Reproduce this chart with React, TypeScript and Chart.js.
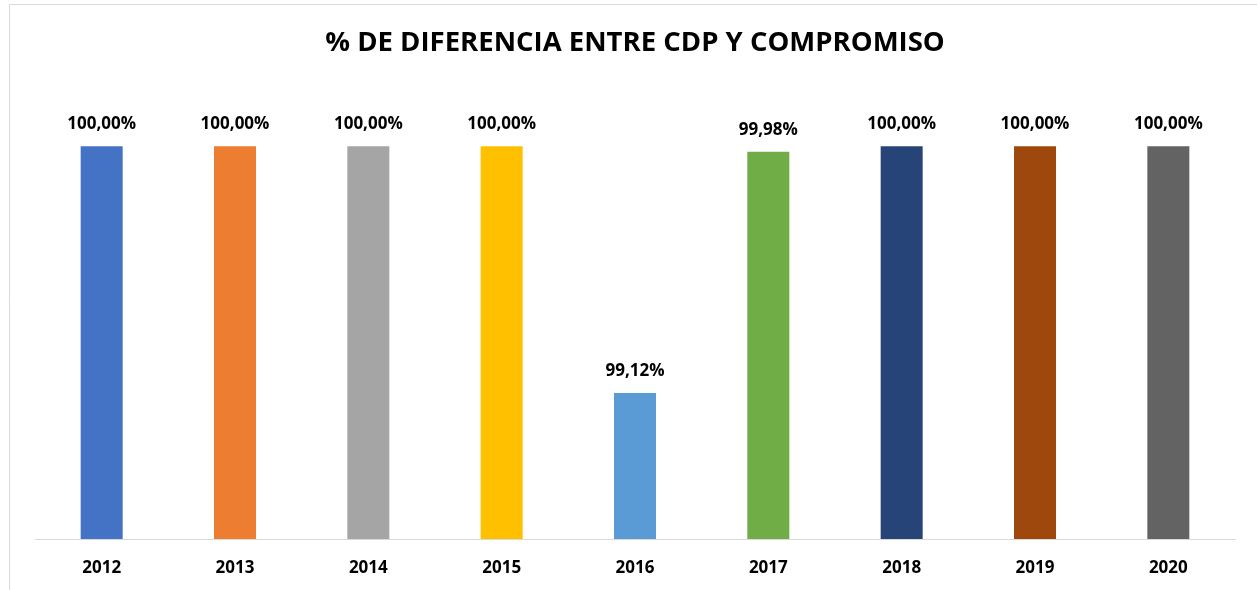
import React, { useEffect, useRef } from "react";
import { Chart, registerables } from "chart.js";

Chart.register(...registerables);

const TITLE = "% DE DIFERENCIA ENTRE CDP Y COMPROMISO";
const years = ["2012", "2013", "2014", "2015", "2016", "2017", "2018", "2019", "2020"];
const percentValues = [100.0, 100.0, 100.0, 100.0, 99.12, 99.98, 100.0, 100.0, 100.0];
const barColors = ["#4472C4", "#ED7D31", "#A5A5A5", "#FFC000", "#5B9BD5", "#70AD47", "#264478", "#9E480E", "#636363"];
const Y_MIN = 98.6;
const Y_MAX = 100.2;

const FONT = "'Open Sans', 'DejaVu Sans', sans-serif";

const fmt = (v: number) => v.toFixed(2).replace(".", ",") + "%";

const decorPlugin = {
  id: "decor",
  beforeDraw(chart: any) {
    const ctx = chart.ctx;
    ctx.save();
    ctx.fillStyle = "#ffffff";
    ctx.fillRect(0, 0, chart.width, chart.height);
    ctx.strokeStyle = "#d9d9d9";
    ctx.lineWidth = 1;
    ctx.beginPath();
    ctx.moveTo(9.5, chart.height);
    ctx.lineTo(9.5, 4.5);
    ctx.lineTo(chart.width, 4.5);
    ctx.stroke();
    // title
    ctx.fillStyle = "#000000";
    ctx.textAlign = "center";
    ctx.textBaseline = "middle";
    let size = 26;
    ctx.font = `bold ${size}px ${FONT}`;
    const w = ctx.measureText(TITLE).width;
    size = Math.min(30, size * 620 / w);
    ctx.font = `bold ${size}px ${FONT}`;
    ctx.fillText(TITLE, 635, 43);
    ctx.restore();
  },
  afterDatasetsDraw(chart: any) {
    const ctx = chart.ctx;
    const meta = chart.getDatasetMeta(0);
    ctx.save();
    ctx.fillStyle = "#000000";
    ctx.textAlign = "center";
    ctx.textBaseline = "middle";
    ctx.font = `bold 17px ${FONT}`;
    meta.data.forEach((bar: any, i: number) => {
      ctx.fillText(fmt(percentValues[i]), bar.x, bar.y - 22);
    });
    ctx.restore();
  },
};

export default function App() {
  const ref = useRef<HTMLCanvasElement | null>(null);
  useEffect(() => {
    if (!ref.current) return;
    const chart = new Chart(ref.current, {
      type: "bar",
      data: {
        labels: years,
        datasets: [
          {
            data: percentValues,
            backgroundColor: barColors,
            borderWidth: 0,
            barPercentage: 0.315,
            categoryPercentage: 1,
          },
        ],
      },
      options: {
        animation: false,
        responsive: false,
        maintainAspectRatio: false,
        layout: { padding: { top: 90, left: 35, right: 22, bottom: 0 } },
        plugins: {
          legend: { display: false },
          title: { display: false },
          tooltip: { enabled: false },
        },
        scales: {
          x: {
            grid: { display: false, drawTicks: false },
            border: { display: true, color: "#d9d9d9", width: 1 },
            ticks: {
              color: "#000000",
              font: { family: FONT, weight: "bold", size: 17 },
              padding: 19,
            },
            afterFit: (scale: any) => {
              scale.height = 51;
            },
          },
          y: {
            display: false,
            min: Y_MIN,
            max: Y_MAX,
          },
        },
      },
      plugins: [decorPlugin],
    });
    return () => chart.destroy();
  }, []);
  return (
    <canvas
      ref={ref}
      width={1257}
      height={590}
      style={{ position: "fixed", left: 0, top: 0, width: 1257, height: 590, display: "block" }}
    />
  );
}
